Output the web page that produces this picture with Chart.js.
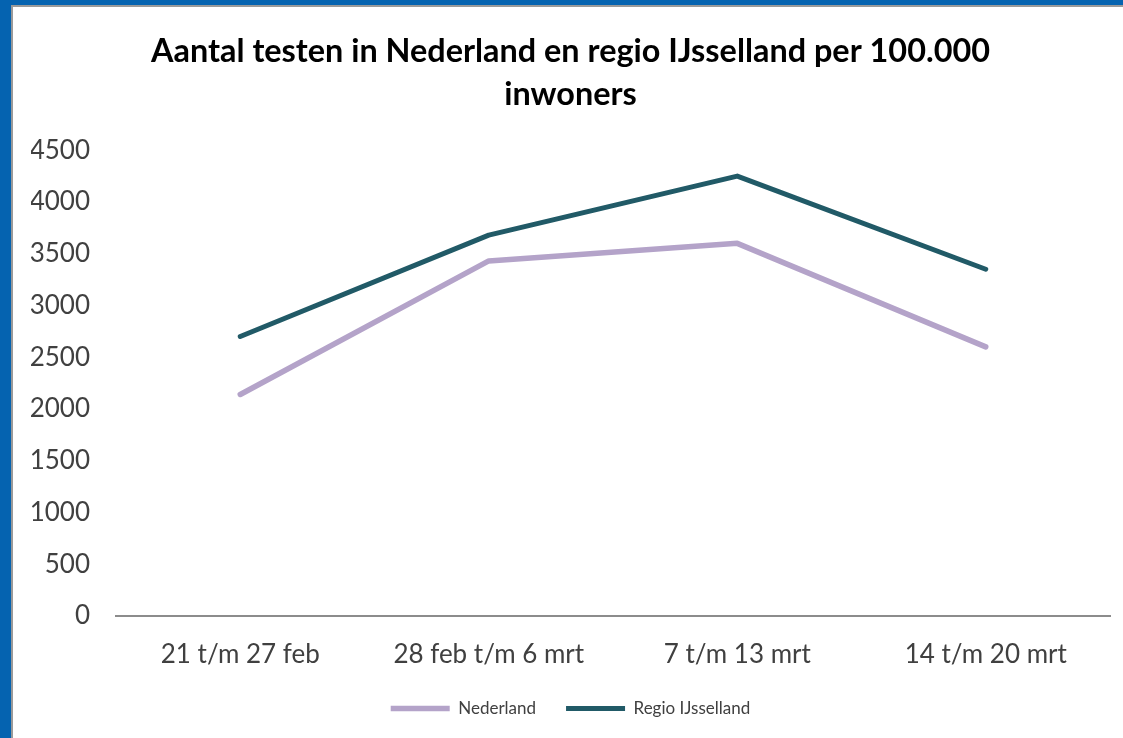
<!DOCTYPE html>
<html>
<head>
<meta charset="utf-8">
<script src="https://cdn.jsdelivr.net/npm/chart.js@4/dist/chart.umd.min.js"></script>
<style>
  html, body { margin: 0; padding: 0; }
  body { width: 1123px; height: 738px; background: #0563b0; position: relative; overflow: hidden; }
  .panel { position: absolute; left: 11px; top: 5px; width: 1112px; height: 733px; background: #fff; border-left: 2px solid #9a9a9a; border-top: 2px solid #9a9a9a; }
  #chart { display: block; }
</style>
</head>
<body>
<div class="panel">
  <canvas id="chart" width="1110" height="731"></canvas>
</div>
<script>
const categories = ['21 t/m 27 feb', '28 feb t/m 6 mrt', '7 t/m 13 mrt', '14 t/m 20 mrt'];
const nederland  = [2140, 3430, 3600, 2600];
const ijsselland = [2700, 3680, 4250, 3350];
const yTicks     = [0, 500, 1000, 1500, 2000, 2500, 3000, 3500, 4000, 4500];

const FONT = "Lato, 'Open Sans', sans-serif";

const ctx = document.getElementById('chart');
new Chart(ctx, {
  type: 'line',
  data: {
    labels: categories,
    datasets: [
      { label: 'Nederland', data: nederland, borderColor: '#b4a3c9', backgroundColor: '#b4a3c9',
        borderWidth: 5.5, pointRadius: 0, tension: 0, borderCapStyle: 'round', borderJoinStyle: 'round' },
      { label: 'Regio IJsselland', data: ijsselland, borderColor: '#215a67', backgroundColor: '#215a67',
        borderWidth: 5, pointRadius: 0, tension: 0, borderCapStyle: 'round', borderJoinStyle: 'round' }
    ]
  },
  options: {
    responsive: false,
    animation: false,
    layout: { padding: { left: 18, right: 13, top: 0, bottom: 11 } },
    plugins: {
      title: {
        display: true,
        text: ['Aantal testen in Nederland en regio IJsselland per 100.000', 'inwoners'],
        color: '#000',
        font: { family: FONT, size: 32.4, weight: 'bold', lineHeight: 1.33 },
        padding: { top: 23, bottom: 34 }
      },
      legend: {
        position: 'bottom',
        labels: {
          usePointStyle: true, pointStyle: 'line', pointStyleWidth: 59, boxWidth: 59, boxHeight: 5,
          color: '#404040', font: { family: FONT, size: 17 }, padding: 30
        }
      },
      tooltip: { enabled: false }
    },
    scales: {
      x: {
        offset: true,
        grid: { display: false, drawTicks: false },
        border: { display: true, color: '#8c8c8c', width: 2 },
        ticks: { color: '#404040', font: { family: FONT, size: 26 }, padding: 23, maxRotation: 0 },
        afterFit: s => { s.height = 54; }
      },
      y: {
        min: 0, max: 4500,
        afterBuildTicks: s => { s.ticks = yTicks.map(v => ({ value: v })); },
        grid: { display: false, drawTicks: false },
        border: { display: false },
        ticks: { color: '#404040', font: { family: FONT, size: 26 }, padding: 26, callback: v => String(v) },
        afterFit: s => { s.width = 85; }
      }
    }
  }
});
</script>
</body>
</html>
